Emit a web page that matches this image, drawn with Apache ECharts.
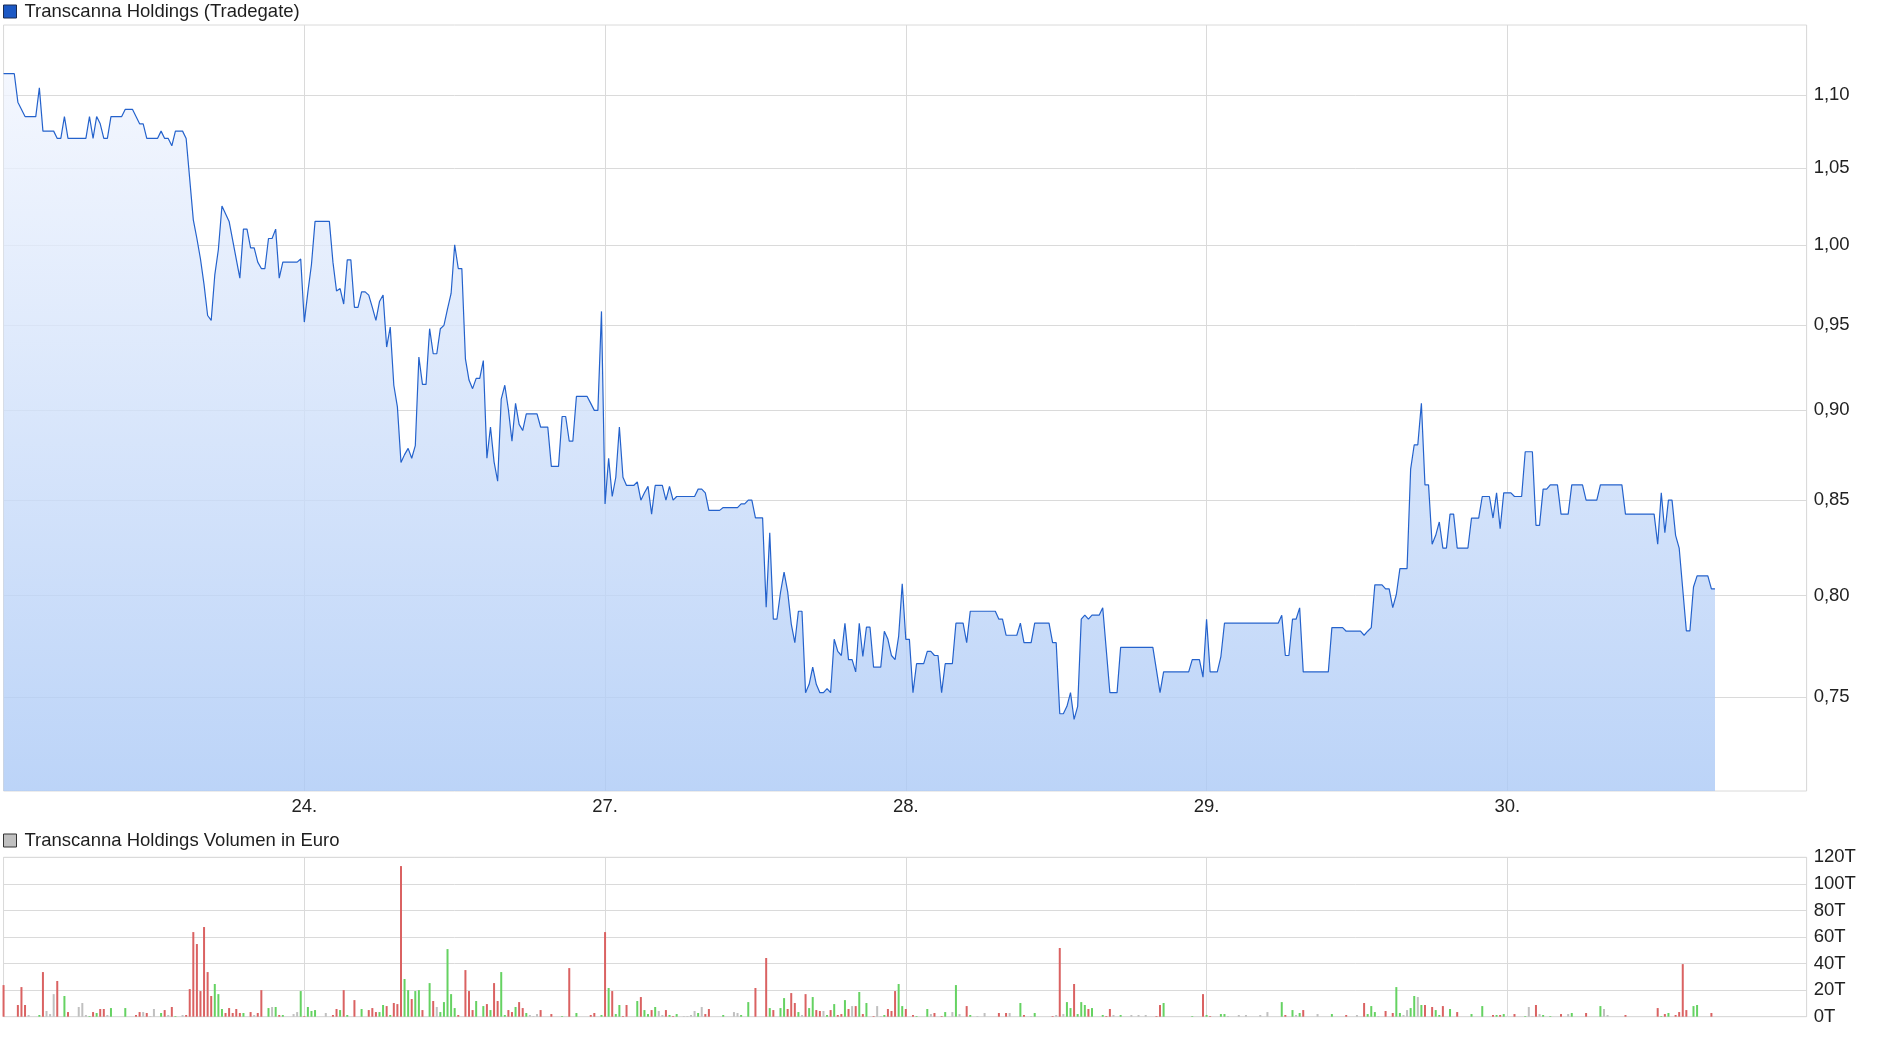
<!DOCTYPE html>
<html><head><meta charset="utf-8">
<script src="https://cdn.jsdelivr.net/npm/echarts@6/dist/echarts.min.js"></script>
<style>html,body{margin:0;padding:0;background:#fff}#c{width:1880px;height:1037px}</style>
</head><body><div id="c"></div>
<script>
// 10-minute bars, 08:00-22:00 => 84 slots per trading day
const SLOTS_PER_DAY = 84;
const dayLabels = ['23.', '24.', '27.', '28.', '29.', '30.'];
const priceTicks = [0.75, 0.80, 0.85, 0.90, 0.95, 1.00, 1.05, 1.10];
const volumeTicksMax = 120; // in T (thousand EUR)

// price: [slot in day, price]
const price23 = [[0,1.115],[3,1.115],[4,1.095],[6,1.085],[9,1.085],[10,1.105],[11,1.075],[14,1.075],[15,1.07],[16,1.07],[17,1.085],[18,1.07],[23,1.07],[24,1.085],[25,1.07],[26,1.085],[27,1.08],[28,1.07],[29,1.07],[30,1.085],[33,1.085],[34,1.09],[36,1.09],[38,1.08],[39,1.08],[40,1.07],[43,1.07],[44,1.075],[45,1.07],[46,1.07],[47,1.065],[48,1.075],[50,1.075],[51,1.07],[53,1.016],[54,1.004],[55,0.991],[56,0.975],[57,0.956],[58,0.953],[59,0.981],[60,0.997],[61,1.025],[63,1.015],[66,0.979],[67,1.01],[68,1.01],[69,0.998],[70,0.998],[71,0.989],[72,0.985],[73,0.985],[74,1.004],[75,1.004],[76,1.01],[77,0.979],[78,0.989],[82,0.989],[83,0.991]];
const price24 = [[0,0.952],[1,0.9705],[2,0.9875],[3,1.015],[7,1.015],[8,0.989],[9,0.971],[10,0.9725],[11,0.963],[12,0.9905],[13,0.9905],[14,0.961],[15,0.961],[16,0.9705],[17,0.9705],[18,0.9685],[19,0.961],[20,0.953],[21,0.9645],[22,0.9685],[23,0.937],[24,0.949],[25,0.9145],[26,0.902],[27,0.8706],[28,0.875],[29,0.8785],[30,0.873],[31,0.880],[32,0.931],[33,0.915],[34,0.915],[35,0.948],[36,0.933],[37,0.933],[38,0.948],[39,0.950],[40,0.960],[41,0.9695],[42,1.000],[43,0.985],[44,0.985],[45,0.930],[46,0.9175],[47,0.9125],[48,0.9185],[49,0.9185],[50,0.929],[51,0.873],[52,0.8905],[53,0.871],[54,0.8603],[55,0.9065],[56,0.9145],[57,0.9005],[58,0.8825],[59,0.904],[60,0.892],[61,0.8885],[62,0.898],[65,0.898],[66,0.8905],[68,0.8905],[69,0.8685],[71,0.8685],[72,0.8965],[73,0.8965],[74,0.8825],[75,0.8825],[76,0.908],[79,0.908],[80,0.904],[81,0.900],[82,0.900],[83,0.9585]];
const price27 = [[0,0.848],[1,0.873],[2,0.852],[3,0.8625],[4,0.8905],[5,0.8625],[6,0.858],[8,0.858],[9,0.860],[10,0.850],[11,0.854],[12,0.8575],[13,0.8425],[14,0.858],[16,0.858],[17,0.850],[18,0.8575],[19,0.850],[20,0.852],[25,0.852],[26,0.856],[27,0.856],[28,0.854],[29,0.8445],[32,0.8445],[33,0.846],[37,0.846],[38,0.848],[39,0.848],[40,0.850],[41,0.850],[42,0.8405],[44,0.8405],[45,0.794],[46,0.8325],[47,0.788],[48,0.788],[49,0.8015],[50,0.812],[51,0.802],[52,0.7857],[53,0.7763],[54,0.792],[55,0.792],[56,0.752],[57,0.756],[58,0.7643],[59,0.756],[60,0.752],[61,0.752],[62,0.754],[63,0.752],[64,0.778],[65,0.772],[66,0.770],[67,0.786],[68,0.768],[69,0.768],[70,0.762],[71,0.786],[72,0.7695],[73,0.784],[74,0.784],[75,0.7643],[77,0.7643],[78,0.782],[79,0.778],[80,0.770],[81,0.768],[82,0.7795],[83,0.806]];
const price28 = [[0,0.778],[1,0.778],[2,0.752],[3,0.766],[5,0.766],[6,0.772],[7,0.772],[8,0.770],[9,0.770],[10,0.752],[11,0.766],[13,0.766],[14,0.786],[16,0.786],[17,0.7763],[18,0.792],[25,0.792],[26,0.788],[27,0.788],[28,0.780],[31,0.780],[32,0.786],[33,0.7763],[35,0.7763],[36,0.786],[40,0.786],[41,0.7763],[42,0.7763],[43,0.742],[44,0.742],[45,0.7455],[46,0.752],[47,0.7393],[48,0.7455],[49,0.788],[50,0.790],[51,0.788],[52,0.790],[54,0.790],[55,0.7938],[57,0.752],[59,0.752],[60,0.774],[69,0.774],[71,0.752],[72,0.762],[79,0.762],[80,0.768],[82,0.768],[83,0.7595]];
const price29 = [[0,0.788],[1,0.762],[3,0.762],[4,0.7695],[5,0.786],[20,0.786],[21,0.790],[22,0.770],[23,0.770],[24,0.788],[25,0.788],[26,0.7937],[27,0.762],[34,0.762],[35,0.7838],[38,0.7838],[39,0.782],[43,0.782],[44,0.780],[45,0.782],[46,0.7838],[47,0.8054],[49,0.8054],[50,0.8034],[51,0.8034],[52,0.7938],[53,0.8005],[54,0.8138],[56,0.8138],[57,0.867],[58,0.8805],[59,0.8805],[60,0.904],[61,0.8583],[62,0.8583],[63,0.8265],[64,0.8312],[65,0.8383],[66,0.8245],[67,0.8245],[68,0.8425],[69,0.8425],[70,0.8245],[73,0.8245],[74,0.8404],[76,0.8404],[77,0.852],[79,0.852],[80,0.8404],[81,0.854],[82,0.8347],[83,0.854]];
const price30 = [[0,0.854],[1,0.854],[2,0.852],[4,0.852],[5,0.8766],[7,0.8766],[8,0.8365],[9,0.8365],[10,0.856],[11,0.856],[12,0.8583],[14,0.8583],[15,0.8425],[17,0.8425],[18,0.8583],[21,0.8583],[22,0.850],[25,0.850],[26,0.8583],[32,0.8583],[33,0.8425],[41,0.8425],[42,0.8265],[43,0.854],[44,0.8326],[45,0.850],[46,0.850],[47,0.8312],[48,0.8245],[50,0.7822],[51,0.7822],[52,0.8043],[53,0.810],[56,0.810],[57,0.8034],[58,0.8034]];

// volume: [slot in day, volume in T EUR, direction (+1 up, -1 down, 0 unchanged)]
const vol23 = [[0,23.8,-1],[4,8.8,-1],[5,22.3,-1],[6,8.8,-1],[7,1.3,0],[10,1.3,1],[11,33.6,-1],[12,4.3,0],[13,2,0],[14,17,0],[15,26.9,-1],[17,15.6,1],[18,3.5,-1],[21,7.3,0],[22,10.3,0],[23,1.3,0],[24,0.5,1],[25,3.5,-1],[26,2.8,1],[27,5.8,-1],[28,5.8,-1],[29,1.3,0],[30,6.5,1],[34,6.5,1],[37,1.3,-1],[38,3.5,-1],[39,3.5,0],[40,2.8,-1],[41,0.5,0],[42,5.8,0],[44,2.8,1],[45,5,-1],[46,1.3,0],[47,7.3,-1],[48,0.5,1],[50,1.3,0],[51,1.3,-1],[52,20.8,-1],[53,63.7,-1],[54,54.7,-1],[55,19.3,-1],[56,67.5,-1],[57,33.6,-1],[58,15.6,-1],[59,24.6,1],[60,17,1],[61,5.8,1],[62,2.8,-1],[63,6.5,-1],[64,2.8,-1],[65,5.8,-1],[66,2.8,-1],[67,2.8,1],[69,3.5,-1],[70,1.3,0],[71,2.8,-1],[72,20,-1],[74,6.5,1],[75,7.3,0],[76,7.3,1],[77,1.3,-1],[78,1.3,1],[81,2,0],[82,3.5,0],[83,19.3,1]];
const vol24 = [[0,0.5,-1],[1,7.3,1],[2,4.3,1],[3,5,1],[6,2.8,0],[8,1.3,-1],[9,5.8,-1],[10,5,1],[11,20,-1],[12,1.3,1],[14,12.5,-1],[16,5.8,1],[18,5,-1],[19,6.5,-1],[20,3.5,-1],[21,3.5,1],[22,8.8,1],[23,8,-1],[24,1.3,1],[25,10.3,-1],[26,9.5,-1],[27,113.4,-1],[28,28.4,1],[29,20,1],[30,13.3,-1],[31,19.3,1],[32,20,1],[33,5,-1],[35,25.3,1],[36,11.8,-1],[37,7.3,0],[38,3.5,1],[39,11,1],[40,50.9,1],[41,17,1],[42,6.5,1],[43,1.3,-1],[45,35.1,-1],[46,19.3,-1],[47,5,-1],[48,11.8,1],[50,8,1],[51,9.5,-1],[52,5,1],[53,25.3,-1],[54,11.8,-1],[55,33.6,1],[56,1.3,1],[57,5,-1],[58,3.5,-1],[59,7.3,1],[60,11,-1],[61,6.5,-1],[62,2.8,1],[63,1.3,0],[64,0.5,0],[65,2,0],[66,5,-1],[69,2,-1],[72,0.5,1],[74,36.6,-1],[76,2.8,1],[80,1.3,-1],[81,2.8,-1],[83,1.3,1]];
const vol27 = [[0,63.7,-1],[1,21.6,1],[2,19.3,-1],[3,2,1],[4,8.8,1],[5,0.5,-1],[6,8.8,-1],[9,11.8,1],[10,14.8,-1],[11,5,1],[12,2,1],[13,5,-1],[14,7.3,1],[15,4.3,0],[16,1.3,0],[17,5,-1],[18,1.3,1],[19,0.5,-1],[20,2,1],[22,0.5,0],[23,0.5,0],[24,1.3,0],[25,4.3,0],[26,2.8,1],[27,7.3,0],[28,2,-1],[29,5.8,-1],[33,1.3,1],[36,3.5,0],[37,2.8,0],[38,1.3,1],[40,11,1],[42,21.6,-1],[45,44.2,-1],[46,6.5,1],[47,5,-1],[49,6.5,1],[50,14,1],[51,5.8,-1],[52,17.8,-1],[53,10.3,-1],[54,3.5,1],[55,1.3,0],[56,17,-1],[57,6.5,1],[58,14.8,1],[59,5,-1],[60,4.3,-1],[61,4.3,0],[62,1.3,1],[63,5,-1],[64,9.5,1],[65,1.3,-1],[66,2,-1],[67,12.5,1],[68,5.8,-1],[69,8,0],[70,8,-1],[71,18.6,1],[72,2,-1],[73,10.3,1],[75,0.5,-1],[76,8,0],[77,0.5,0],[78,1.3,1],[79,5.8,-1],[80,4.3,-1],[81,19.3,-1],[82,24.6,1],[83,8,1]];
const vol28 = [[0,5.8,-1],[2,1.3,-1],[3,0.5,1],[6,5.8,1],[7,2,0],[8,2.8,-1],[10,0.5,-1],[11,3.5,1],[13,3.5,0],[14,23.8,1],[15,2,0],[17,8,-1],[18,1.3,1],[20,0.5,0],[22,2.8,0],[26,2.8,-1],[28,2.8,-1],[29,2.8,0],[32,10.3,1],[33,1.3,-1],[35,0.5,0],[36,2.8,1],[41,0.5,-1],[42,1.3,0],[43,51.7,-1],[44,2,0],[45,11,1],[46,6.5,1],[47,24.6,-1],[48,2,1],[49,11,1],[50,8.8,1],[51,5.8,-1],[52,6.5,1],[55,1.3,1],[56,0.5,-1],[57,5.8,-1],[58,1.3,0],[60,1.3,1],[63,1.3,0],[65,1.3,0],[67,1.3,0],[70,0.5,-1],[71,8.8,-1],[72,10.3,1],[80,0.5,1],[83,17,-1]];
const vol29 = [[0,1.3,1],[1,0.5,-1],[4,2,1],[5,2,1],[6,0.5,0],[9,1.3,0],[11,1.3,0],[15,1.3,0],[17,3.5,0],[21,11,1],[22,1.3,-1],[24,5,1],[25,1.3,0],[26,2.8,1],[27,5,-1],[31,2,0],[35,2,1],[39,1.3,-1],[42,1.3,0],[44,10.3,-1],[45,2,1],[46,8,1],[47,3.5,1],[48,0.5,0],[50,4.3,-1],[52,2.8,-1],[53,22.3,1],[54,2.8,1],[55,1.3,0],[56,5,0],[57,6.5,1],[58,15.6,1],[59,14.8,0],[60,8.8,1],[61,8.8,-1],[63,7.3,-1],[64,5,1],[65,1.3,1],[66,8,-1],[68,5.8,1],[70,3.5,-1],[74,2,1],[77,8,1],[80,1.3,-1],[81,1.3,1],[82,1.3,-1],[83,2,1]];
const vol30 = [[2,2,-1],[5,0.5,1],[6,7.3,0],[7,0.5,0],[8,8.8,-1],[9,2,0],[10,1.3,1],[12,0.5,1],[15,2,-1],[17,2,0],[18,2.8,1],[22,2.8,-1],[26,8,1],[27,5.8,0],[28,1.3,0],[33,1.3,-1],[42,6.5,-1],[43,0.5,1],[44,2,-1],[45,2.8,1],[47,1.3,-1],[48,3.5,-1],[49,39.6,-1],[50,5,-1],[52,8,1],[53,8.8,1],[57,2.8,-1]];

const PRICE_MIN = 0.7064, PRICE_MAX = 1.1501;
const X_MAX = 503.6;

const priceDays = [price23, price24, price27, price28, price29, price30];
const volDays = [vol23, vol24, vol27, vol28, vol29, vol30];
const priceData = [];
priceDays.forEach((arr, d) => arr.forEach(([s, p]) => priceData.push([d * SLOTS_PER_DAY + s, Math.log(p)])));
const dirColor = { '1': '#65d262', '-1': '#da6262', '0': '#c0c0c0' };
const volData = [];
volDays.forEach((arr, d) => arr.forEach(([s, v, dir]) => volData.push({ value: [d * SLOTS_PER_DAY + s, v], itemStyle: { color: dirColor[String(dir)] } })));

const FONT = "'Liberation Sans', Arial, sans-serif";
const GRID_COLOR = '#dadada';
const dayFormatter = v => {
  const i = Math.round(v / SLOTS_PER_DAY);
  return (Math.abs(v - i * SLOTS_PER_DAY) < 0.01 && i > 0 && i < dayLabels.length) ? dayLabels[i] : '';
};

const chart = echarts.init(document.getElementById('c'), null, { renderer: 'canvas' });
chart.setOption({
  animation: false,
  backgroundColor: '#ffffff',
  textStyle: { fontFamily: FONT },
  legend: [
    { data: ['Transcanna Holdings (Tradegate)'], left: 3, top: 2, padding: 0, selectedMode: false, icon: 'rect', itemWidth: 13, itemHeight: 13, itemGap: 0,
      itemStyle: { borderColor: '#1a2a50', borderWidth: 1 },
      textStyle: { fontSize: 18.5, color: '#1e1e1e', fontFamily: FONT, padding: [0, 0, 0, 3] } },
    { data: ['Transcanna Holdings Volumen in Euro'], left: 3, top: 831, padding: 0, selectedMode: false, icon: 'rect', itemWidth: 13, itemHeight: 13, itemGap: 0,
      itemStyle: { borderColor: '#333', borderWidth: 1 },
      textStyle: { fontSize: 18.5, color: '#1e1e1e', fontFamily: FONT, padding: [0, 0, 0, 3] } }
  ],
  grid: [
    { left: 3.55, top: 25, width: X_MAX * 3.5804, height: 766, show: true, borderColor: GRID_COLOR, borderWidth: 1, containLabel: false },
    { left: 3.55, top: 857.3, width: X_MAX * 3.5804, height: 159.4, show: true, borderColor: GRID_COLOR, borderWidth: 1, containLabel: false }
  ],
  xAxis: [
    { type: 'value', gridIndex: 0, min: 0, max: X_MAX, interval: SLOTS_PER_DAY,
      axisLine: { show: false }, axisTick: { show: false },
      splitLine: { show: true, lineStyle: { color: GRID_COLOR, width: 1 } },
      axisLabel: { formatter: dayFormatter, fontSize: 18.5, color: '#222', margin: 6, showMinLabel: false, showMaxLabel: false, fontFamily: FONT } },
    { type: 'value', gridIndex: 1, min: 0, max: X_MAX, interval: SLOTS_PER_DAY,
      axisLine: { show: false }, axisTick: { show: false },
      splitLine: { show: true, lineStyle: { color: GRID_COLOR, width: 1 } },
      axisLabel: { show: false } }
  ],
  yAxis: [
    { type: 'value', gridIndex: 0, position: 'right', min: Math.log(PRICE_MIN), max: Math.log(PRICE_MAX),
      axisLine: { show: false },
      axisTick: { show: false, customValues: priceTicks.map(Math.log) },
      splitLine: { show: true, lineStyle: { color: GRID_COLOR, width: 1 } },
      axisLabel: { customValues: priceTicks.map(Math.log), formatter: v => Math.exp(v).toFixed(2).replace('.', ','), fontSize: 18.5, color: '#222', margin: 7, padding: [4, 0, 0, 0], fontFamily: FONT } },
    { type: 'value', gridIndex: 1, position: 'right', min: 0, max: volumeTicksMax, interval: 20,
      axisLine: { show: false }, axisTick: { show: false },
      splitLine: { show: true, lineStyle: { color: GRID_COLOR, width: 1 } },
      axisLabel: { formatter: '{value}T', fontSize: 18.5, color: '#222', margin: 7, padding: [3, 0, 0, 0], fontFamily: FONT } }
  ],
  series: [
    { name: 'Transcanna Holdings (Tradegate)', type: 'line', xAxisIndex: 0, yAxisIndex: 0, data: priceData,
      showSymbol: false, symbol: 'none', color: '#1c58c4',
      lineStyle: { color: '#2462cc', width: 1.2 },
      areaStyle: { origin: 'start', opacity: 1, color: new echarts.graphic.LinearGradient(0, 0, 0, 1, [
        { offset: 0, color: 'rgba(241,245,254,0.8)' }, { offset: 1, color: 'rgba(171,201,246,0.8)' }]) } },
    { name: 'Transcanna Holdings Volumen in Euro', type: 'bar', xAxisIndex: 1, yAxisIndex: 1, data: volData,
      barWidth: 2, color: '#c0c0c0', itemStyle: { color: '#c0c0c0' } }
  ]
});
</script>
</body></html>
